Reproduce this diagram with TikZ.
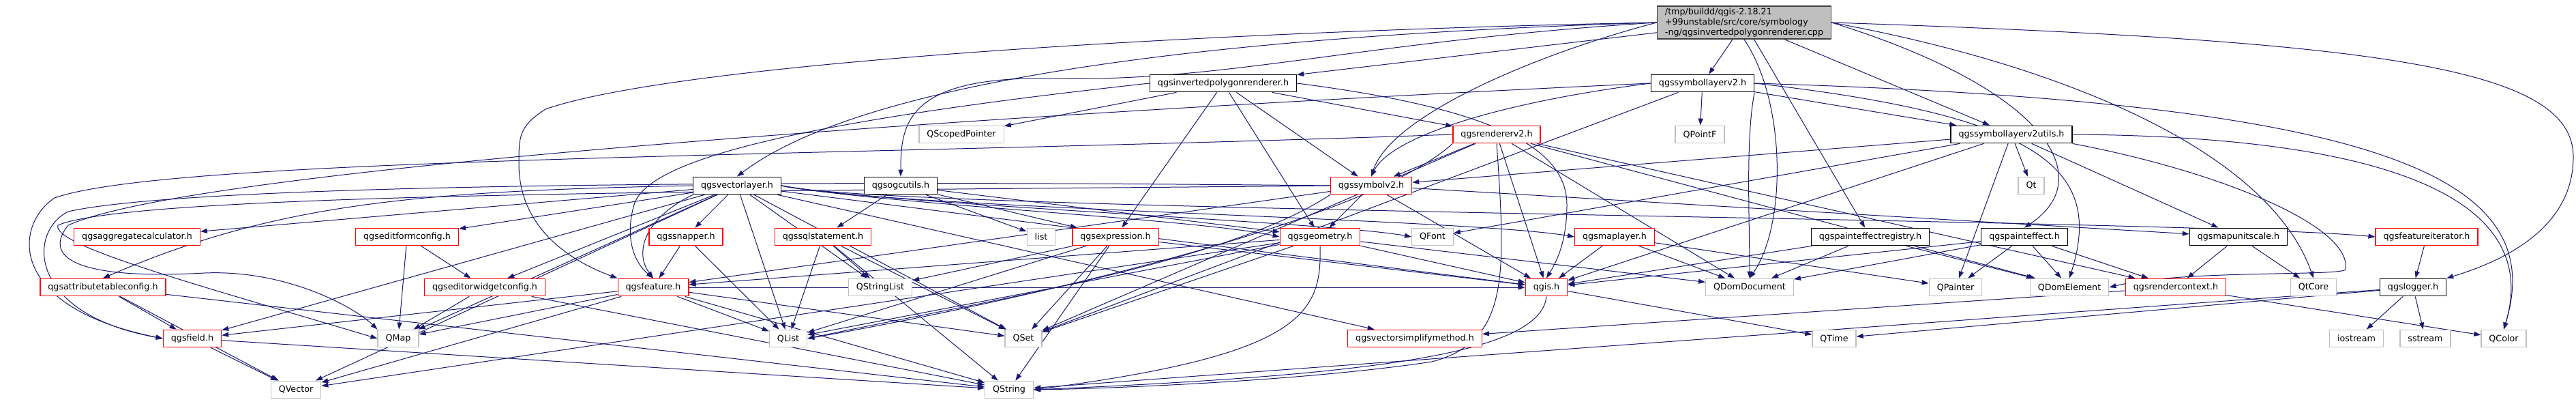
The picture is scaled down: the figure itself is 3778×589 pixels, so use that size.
\documentclass[tikz,border=0pt]{standalone}
\usepackage{fontspec}
\setmainfont{DejaVu Sans}
\usetikzlibrary{arrows.meta,backgrounds}
\definecolor{DoxEdge}{HTML}{191970}
\definecolor{DoxGrey}{HTML}{BFBFBF}
\definecolor{DoxRed}{HTML}{FF0000}
\definecolor{DoxDark}{HTML}{404040}

\begin{document}
\begin{tikzpicture}[x=1pt,y=-1pt,
    hdr/.style={draw=black,fill=white,line width=1.3pt,font=\fontsize{12.7}{15}\selectfont,inner xsep=11.5pt,inner ysep=3pt,minimum height=25.5pt},
    trunc/.style={hdr,draw=DoxRed},
    sys/.style={hdr,draw=DoxGrey},
    dep/.style={-{Triangle[length=10pt,width=7pt]},DoxEdge,line width=1pt}
  ]
    \useasboundingbox (0,0) rectangle (3778,589);
    % rank 0-1
    \node[hdr,fill=DoxGrey,draw=DoxDark,align=left] (root) at (2558,33) {/tmp/buildd/qgis-2.18.21\\+99unstable/src/core/symbology\\-ng/qgsinvertedpolygonrenderer.cpp};
    \node[hdr] (invpoly) at (1794,122) {qgsinvertedpolygonrenderer.h};
    \node[hdr] (symlayer) at (2497,122) {qgssymbollayerv2.h};
    % rank 2
    \node[sys] (scoped) at (1410,197) {QScopedPointer};
    \node[trunc] (rendererv2) at (2195,197) {qgsrendererv2.h};
    \node[sys] (qpointf) at (2493,197) {QPointF};
    \node[hdr] (symutils) at (2950,197) {qgssymbollayerv2utils.h};
    % rank 3
    \node[hdr] (vlayer) at (1081,272) {qgsvectorlayer.h};
    \node[hdr] (ogcutils) at (1321,272) {qgsogcutils.h};
    \node[trunc] (symbolv2) at (2011,272) {qgssymbolv2.h};
    \node[sys] (qt) at (2979,272) {Qt};
    % rank 4
    \node[trunc] (aggcalc) at (201,347) {qgsaggregatecalculator.h};
    \node[trunc] (editform) at (597,347) {qgseditformconfig.h};
    \node[trunc] (snapper) at (1006,347) {qgssnapper.h};
    \node[trunc] (sqlstmt) at (1207,347) {qgssqlstatement.h};
    \node[sys] (list) at (1527,347) {list};
    \node[trunc] (expression) at (1636,347) {qgsexpression.h};
    \node[trunc] (geometry) at (1936,347) {qgsgeometry.h};
    \node[sys] (qfont) at (2101,347) {QFont};
    \node[trunc] (maplayer) at (2368,347) {qgsmaplayer.h};
    \node[hdr] (pteffreg) at (2743,347) {qgspainteffectregistry.h};
    \node[hdr] (pteff) at (2969,347) {qgspainteffect.h};
    \node[hdr] (mapunit) at (3283,347) {qgsmapunitscale.h};
    \node[trunc] (featit) at (3559,347) {qgsfeatureiterator.h};
    % rank 5
    \node[trunc] (attrtab) at (151,421) {qgsattributetableconfig.h};
    \node[trunc] (editwidget) at (711,421) {qgseditorwidgetconfig.h};
    \node[trunc] (feature) at (958,421) {qgsfeature.h};
    \node[sys] (qstrlist) at (1291,421) {QStringList};
    \node[trunc] (qgis) at (2268,421) {qgis.h};
    \node[sys] (qdomdoc) at (2566,421) {QDomDocument};
    \node[sys] (qpainter) at (2868,421) {QPainter};
    \node[sys] (qdomel) at (3035,421) {QDomElement};
    \node[trunc] (rctx) at (3191,421) {qgsrendercontext.h};
    \node[sys] (qtcore) at (3393,421) {QtCore};
    \node[hdr] (logger) at (3539,421) {qgslogger.h};
    % rank 6-7
    \node[trunc] (field) at (282,496) {qgsfield.h};
    \node[sys] (qmap) at (584,496) {QMap};
    \node[sys] (qlist) at (1156,496) {QList};
    \node[sys] (qset) at (1501,496) {QSet};
    \node[trunc] (simplify) at (2075,496) {qgsvectorsimplifymethod.h};
    \node[sys] (qtime) at (2690,496) {QTime};
    \node[sys] (iostream) at (3456,496) {iostream};
    \node[sys] (sstream) at (3557,496) {sstream};
    \node[sys] (qcolor) at (3672,496) {QColor};
    \node[sys] (qvector) at (434,571) {QVector};
    \node[sys] (qstring) at (1480,571) {QString};

    \begin{scope}[on background layer]
    % straight dependencies
    \foreach \s/\t in {root/invpoly,root/symlayer,root/pteffreg,root/symutils,
        invpoly/scoped,invpoly/rendererv2,invpoly/symbolv2,invpoly/expression,invpoly/geometry,
        symlayer/qpointf,symlayer/symutils,symlayer/qset,
        symutils/qt,symutils/symbolv2,symutils/qgis,symutils/qpainter,symutils/mapunit,symutils/qfont,
        rendererv2/symbolv2,rendererv2/qgis,rendererv2/rctx,rendererv2/qdomel,rendererv2/qdomdoc,rendererv2/qset,
        symbolv2/geometry,symbolv2/feature,symbolv2/qgis,symbolv2/mapunit,
        vlayer/aggcalc,vlayer/editform,vlayer/editwidget,vlayer/snapper,vlayer/field,
        vlayer/qmap,vlayer/qlist,vlayer/qset,vlayer/qstrlist,vlayer/qvector,
        vlayer/qgis,vlayer/simplify,
        ogcutils/sqlstmt,ogcutils/list,ogcutils/expression,ogcutils/geometry,
        sqlstmt/qlist,sqlstmt/qstrlist,sqlstmt/qset,sqlstmt/qstring,
        snapper/feature,snapper/qlist,editform/editwidget,editform/qmap,editwidget/qmap,editwidget/qstring,
        attrtab/field,attrtab/qvector,attrtab/qstring,
        feature/field,feature/qmap,feature/qlist,feature/qset,feature/qvector,feature/qstring,feature/qgis,
        expression/qstrlist,expression/qset,expression/qlist,expression/qgis,expression/qstring,
        geometry/feature,geometry/qdomdoc,geometry/qgis,geometry/qlist,geometry/qset,geometry/qvector,
        maplayer/qgis,maplayer/qpainter,maplayer/qdomdoc,
        pteffreg/qgis,pteffreg/qdomdoc,pteffreg/qdomel,
        pteff/qgis,pteff/qdomdoc,pteff/qpainter,pteff/qdomel,pteff/rctx,
        mapunit/rctx,mapunit/qtcore,rctx/simplify,rctx/qcolor,featit/logger,
        logger/iostream,logger/sstream,logger/qtime,logger/qstring,
        qgis/qtime,field/qvector,field/qstring}
      \draw[dep] (\s) -- (\t);

    % curved dependencies
    \draw[dep] (root.west) .. controls (1700,55) and (1250,130) .. (vlayer.north);
    \draw[dep] (root.west) .. controls (2000,60) and (1800,120) .. (1550,115) .. controls (1330,110) and (1321,180) .. (ogcutils.north);
    \draw[dep] (root.west) .. controls (1800,45) and (1000,90) .. (800,160) .. controls (761,185) and (761,200) .. (761,240) .. controls (761,330) and (830,380) .. (feature.north west);
    \draw[dep] (root.west) .. controls (2250,80) and (2040,170) .. (symbolv2.north);
    \draw[dep] (root.east) .. controls (3000,130) and (3080,260) .. (pteff.north);
    \draw[dep] (root.south) .. controls (2620,150) and (2620,330) .. (qdomdoc.north);
    \draw[dep] (root.east) .. controls (3050,100) and (3330,230) .. (qtcore.north);
    \draw[dep] (root.east) .. controls (3500,60) and (3774,100) .. (3774,230) .. controls (3774,330) and (3680,380) .. (logger.north east);
    \draw[dep] (invpoly.east) .. controls (2200,160) and (2298,220) .. (2298,300) .. controls (2298,350) and (2285,380) .. (qgis.north);
    \draw[dep] (invpoly.west) .. controls (1200,175) and (950,230) .. (930,300) .. controls (918,340) and (925,380) .. (feature.north);
    \draw[dep] (vlayer.south west) .. controls (945,320) and (930,370) .. (feature.north);
    \draw[dep] (symlayer.west) .. controls (2200,150) and (2040,200) .. (symbolv2.north);
    \draw[dep] (symlayer.south east) .. controls (2560,200) and (2566,320) .. (qdomdoc.north);
    \draw[dep] (symlayer.east) .. controls (3000,170) and (3085,250) .. (qdomel.north);
    \draw[dep] (symlayer.east) .. controls (3500,150) and (3740,260) .. (qcolor.north);
    \draw[dep] (symutils.east) .. controls (3500,200) and (3730,290) .. (qcolor.north);
    \draw[dep] (symutils.south east) .. controls (3250,250) and (3450,330) .. (3440,395) .. controls (3430,405) and (3200,395) .. (qdomel.east);
    \draw[dep] (rendererv2.west) .. controls (1200,230) and (250,230) .. (80,290) .. controls (20,330) and (10,450) .. (field.west);
    \draw[dep] (symbolv2.west) .. controls (1300,265) and (300,265) .. (100,310) .. controls (40,340) and (40,460) .. (field.west);
    \draw[dep] (symbolv2.west) .. controls (1200,280) and (200,280) .. (85,330) .. controls (75,360) and (300,420) .. (qmap.west);
    \draw[dep] (symlayer.west) .. controls (1600,160) and (300,240) .. (100,330) .. controls (60,380) and (120,410) .. (300,400) .. controls (420,395) and (520,450) .. (qmap.north west);
    \draw[dep] (symbolv2.south west) .. controls (1800,385) and (1450,440) .. (qlist.east);
    \draw[dep] (rendererv2.south west) .. controls (2000,330) and (1450,450) .. (qlist.east);
    \draw[dep] (rendererv2.south) .. controls (2208,400) and (2215,500) .. (2100,530) .. controls (1900,560) and (1600,570) .. (qstring.east);
    \draw[dep] (qgis.south) .. controls (2260,520) and (2000,550) .. (qstring.east);
    \draw[dep] (geometry.south) .. controls (1939,460) and (1910,520) .. (qstring.east);
    \draw[dep] (vlayer.east) .. controls (1300,300) and (1750,320) .. (geometry.west);
    \draw[dep] (vlayer.east) .. controls (1300,300) and (1950,325) .. (qfont.west);
    \draw[dep] (vlayer.east) .. controls (1300,305) and (2150,320) .. (maplayer.west);
    \draw[dep] (vlayer.east) .. controls (1300,310) and (3200,320) .. (featit.west);
    \draw[dep] (vlayer.west) .. controls (600,280) and (400,300) .. (attrtab.north);
    \end{scope}
  \end{tikzpicture}
\end{document}
